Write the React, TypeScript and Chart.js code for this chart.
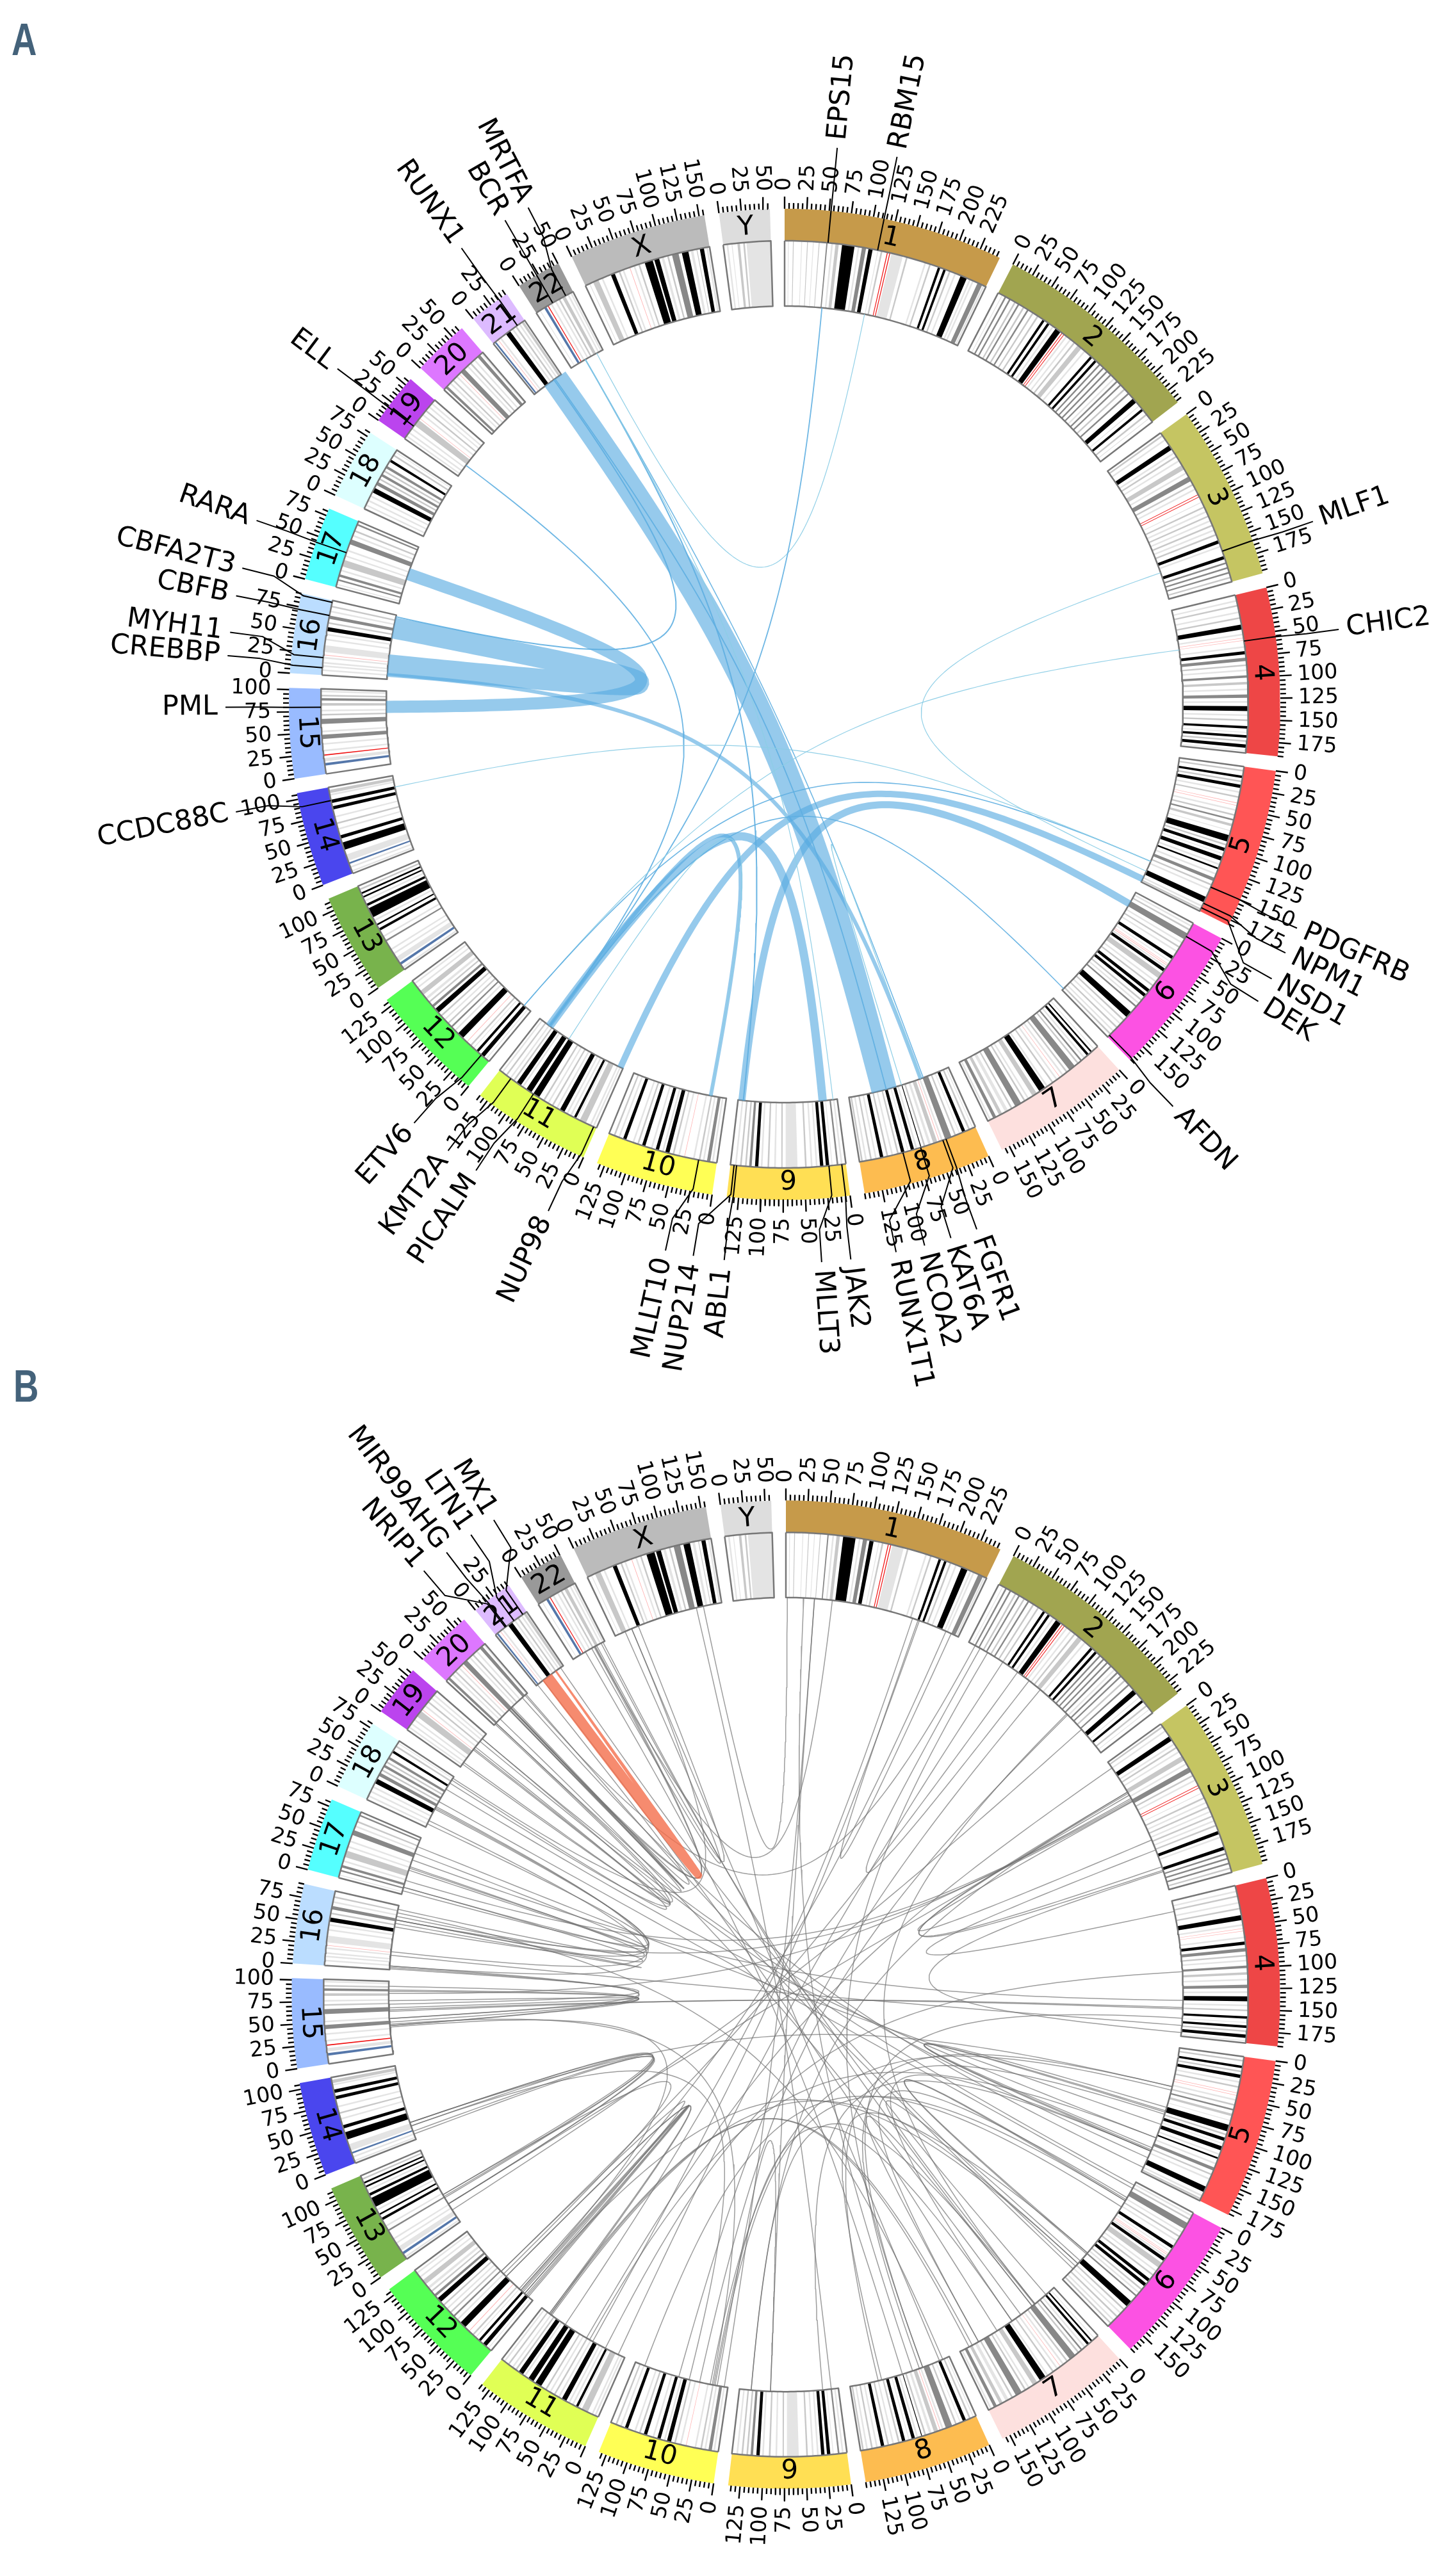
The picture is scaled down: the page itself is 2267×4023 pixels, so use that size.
import React, { useEffect, useRef } from 'react';
import { Chart, registerables } from 'chart.js';
Chart.register(...registerables);

const W = 2267, H = 4023;

const chromNames = ['1','2','3','4','5','6','7','8','9','10','11','12','13','14','15','16','17','18','19','20','21','22','X','Y'];
const chromLengths = [248.9,242.2,198.3,190.2,181.5,170.8,159.3,145.1,138.4,133.8,135.1,133.3,114.4,107.0,102.0,90.3,83.3,80.4,58.6,64.4,46.7,50.8,156.0,57.2];
const chromColors = ['#c69a4a','#a1a550','#c5c562','#ee4646','#ff5555','#fc52e3','#fde0de','#fdbc50','#ffdf54','#ffff55','#e0ff55','#55ff55','#78b34c','#4a46ee','#99bbff','#bbddff','#55ffff','#ddffff','#bb44ee','#dd77ff','#ddbbff','#999999','#bbbbbb','#dddddd'];

type B = [number, number, string];
const bands1: B[] = [[4,5,'l'],[10,11,'m'],[20,21,'l'],[27,28,'m'],[34,35,'l'],[41,42,'m'],[50,51.5,'d'],[56,58,'l'],[61,65,'m'],[69,84,'k'],[88,90,'l'],[93,98,'d'],[101,106,'k'],[112,113,'l'],[116,118,'m'],[123.5,124.5,'r'],[126.5,127.5,'r'],[129,143,'l'],[147,149,'m'],[170,172,'l'],[176,178,'m'],[187,190,'k'],[194,197,'k'],[201,203,'m'],[208,210,'l'],[216,224,'k'],[227,229,'l'],[231,233,'l'],[238,244,'d'],[245,247,'l']];
const bands2: B[] = [[5,6,'l'],[9,11,'d'],[15,17,'d'],[22,24,'m'],[27,29,'d'],[34,36,'m'],[40,42,'d'],[47,49,'m'],[54,56,'m'],[62,65,'k'],[69,72,'k'],[76,78,'l'],[81,88,'k'],[90,90.8,'r'],[92.8,93.6,'r'],[96,98,'l'],[102,104,'l'],[108,110,'m'],[114,120,'m'],[124,126,'l'],[134,137,'k'],[141,144,'k'],[148,150,'d'],[154,156,'d'],[160,162,'d'],[166,168,'d'],[172,174,'l'],[177,179,'d'],[183,185,'d'],[190,192,'m'],[197,199,'d'],[206,212,'k'],[217,218,'l'],[222,225,'k'],[230,232,'m'],[236,237,'l']];
const bands3: B[] = [[3,5,'m'],[9,11,'l'],[18,24,'k'],[28,30,'l'],[33,35,'m'],[39,41,'l'],[46,52,'m'],[56,58,'l'],[62,68,'d'],[72,74,'m'],[78,80,'l'],[86,86.8,'r'],[89,89.8,'r'],[96,97,'l'],[102,104,'m'],[108,110,'l'],[114,116,'m'],[120,122,'l'],[126,128,'m'],[132,134,'l'],[138,140,'m'],[146,150,'k'],[153,155,'l'],[166,170,'k'],[174,176,'d'],[180,182,'d'],[186,188,'d'],[192,194,'m']];
const bands4: B[] = [[6,8,'l'],[12,14,'m'],[20,22,'l'],[27,29,'m'],[36,42,'k'],[47,49,'l'],[52,52.6,'p'],[55,55.6,'p'],[62,64,'l'],[68,72,'k'],[76,80,'d'],[84,86,'m'],[90,92,'l'],[97,100,'d'],[105,108,'m'],[113,115,'l'],[120,124,'d'],[128,130,'l'],[134,140,'k'],[144,146,'l'],[150,152,'m'],[158,161,'k'],[165,166,'l'],[169,172,'k'],[175,177,'m'],[180,184,'k'],[187,188,'l']];
const bands5: B[] = [[4,6,'m'],[11,14,'k'],[17,19,'m'],[22,26,'k'],[30,32,'l'],[36,38,'m'],[44,44.6,'p'],[47,47.6,'p'],[52,54,'l'],[58,60,'m'],[64,66,'d'],[70,73,'m'],[78,79,'l'],[84,92,'k'],[95,97,'m'],[100,104,'k'],[107,108,'l'],[111,116,'k'],[120,122,'l'],[125,127,'k'],[132,134,'l'],[138,142,'d'],[146,148,'m'],[152,154,'l'],[163,170,'k'],[174,176,'l'],[178,180,'m']];
const bands6: B[] = [[3,5,'l'],[8,10,'m'],[14,22,'d'],[26,28,'l'],[32,34,'m'],[38,40,'l'],[46,50,'k'],[53,54,'l'],[57,57.6,'p'],[59,59.6,'p'],[61,63,'l'],[64,68,'k'],[71,78,'m'],[82,84,'l'],[88,90,'m'],[95,99,'k'],[102,106,'k'],[110,112,'m'],[115,117,'l'],[120,122,'d'],[130,138,'k'],[142,144,'m'],[148,150,'l'],[154,156,'m'],[160,162,'l'],[165,167,'m']];
const bands7: B[] = [[5,6,'l'],[9,11,'k'],[14,17,'k'],[20,22,'l'],[25,27,'d'],[30,32,'m'],[36,44,'d'],[47,49,'m'],[53,55,'l'],[58,58.6,'p'],[62,64,'l'],[68,70,'m'],[76,78,'l'],[80,88,'k'],[92,98,'m'],[103,105,'l'],[108,110,'m'],[114,122,'d'],[126,128,'m'],[132,136,'l'],[140,144,'m'],[148,152,'d'],[155,157,'l']];
const bands8: B[] = [[3,4,'l'],[7,9,'m'],[13,17,'k'],[20,21,'l'],[25,27,'m'],[31,39,'d'],[42,44,'l'],[46,46.7,'p'],[49,54,'m'],[57,60,'l'],[64,66,'m'],[69,70,'k'],[74,76,'l'],[78,82,'k'],[85,86,'l'],[90,94,'k'],[97,99,'m'],[104,106,'l'],[110,112,'m'],[116,120,'k'],[124,126,'l'],[130,132,'m'],[136,138,'l'],[141,143,'m']];
const bands9: B[] = [[4,6,'l'],[9,11,'d'],[16,17,'l'],[20,24,'k'],[27,31,'k'],[34,36,'l'],[40,42,'l'],[47,49,'m'],[58,72,'l'],[76,78,'m'],[84,86,'l'],[92,94,'m'],[100,102,'l'],[105,109,'k'],[113,116,'d'],[119,121,'m'],[125,127,'m'],[131,133,'l']];
const bands10: B[] = [[4,6,'l'],[8,12,'d'],[15,17,'l'],[20,22,'m'],[27,29,'l'],[39,39.6,'p'],[45,47,'l'],[52,54,'m'],[58,63,'k'],[65,67,'l'],[71,75,'k'],[79,81,'l'],[88,92,'k'],[96,98,'m'],[102,104,'l'],[112,116,'k'],[120,122,'l'],[126,128,'m']];
const bands11: B[] = [[3,5,'l'],[7,9,'l'],[14,22,'m'],[25,26,'l'],[27,30,'k'],[33,35,'l'],[38,40,'l'],[43,49,'k'],[52,54,'l'],[58,60,'m'],[64,66,'l'],[70,72,'m'],[78,86,'k'],[89,96,'k'],[100,102,'l'],[104,110,'k'],[113,115,'m'],[118,120,'l'],[124,126,'m'],[130,132,'l']];
const bands12: B[] = [[4,5,'l'],[8,13,'k'],[17,20,'k'],[24,25,'l'],[28,30,'m'],[35,35.7,'p'],[42,50,'k'],[54,56,'l'],[60,62,'d'],[66,68,'m'],[72,74,'l'],[78,80,'m'],[84,90,'k'],[93,96,'d'],[100,102,'m'],[105,108,'l'],[112,118,'m'],[122,124,'l'],[128,130,'l']];
const bands13: B[] = [[2,4,'l'],[7,10,'b'],[12,18,'l'],[22,24,'l'],[28,30,'l'],[40,42,'d'],[46,48,'l'],[55,58,'k'],[62,64,'k'],[68,70,'l'],[73,85,'k'],[88,91,'k'],[94,96,'l'],[99,101,'k'],[104,106,'k'],[109,111,'m']];
const bands14: B[] = [[2,4,'l'],[7,9,'l'],[12,14,'b'],[16,24,'l'],[30,39,'k'],[44,48,'k'],[55,57,'l'],[62,64,'m'],[70,72,'l'],[80,84,'k'],[88,92,'k'],[97,99,'l'],[100,104,'m']];
const bands15: B[] = [[10,13,'b'],[15,19,'l'],[22,23.2,'r'],[27,29,'l'],[35,37,'l'],[42,47,'d'],[50,52,'l'],[60,66,'d'],[70,72,'m'],[75,77,'l'],[82,85,'m'],[88,91,'d'],[93,95,'m'],[98,100,'l']];
const bands16: B[] = [[5,7,'l'],[10,12,'l'],[14,16,'l'],[20,22,'l'],[24,24.6,'p'],[28,36,'l'],[42,44,'l'],[48,50,'l'],[53,58,'k'],[62,64,'m'],[68,72,'d'],[76,78,'l'],[82,84,'m']];
const bands17: B[] = [[3,4,'l'],[8,10,'d'],[13,16,'d'],[20,22,'l'],[26,34,'m'],[38,40,'l'],[45,47,'l'],[54,60,'d'],[64,66,'l'],[70,72,'m'],[78,80,'d']];
const bands18: B[] = [[4,6,'l'],[10,12,'l'],[16,18,'l'],[22,28,'k'],[32,36,'d'],[39,41,'m'],[44,47,'d'],[50,52,'m'],[55,58,'d'],[64,67,'k'],[72,74,'m'],[77,78,'l']];
const bands19: B[] = [[3,5,'l'],[8,10,'l'],[14,16,'l'],[20,28,'m'],[30,30.6,'p'],[35,37,'l'],[41,43,'m'],[47,49,'l'],[52,54,'l']];
const bands20: B[] = [[3,6,'d'],[10,12,'l'],[15,17,'m'],[21,23,'l'],[26,26.6,'p'],[29,35,'d'],[39,41,'l'],[44,46,'m'],[50,52,'l'],[56,60,'d'],[62,63,'l']];
const bands21: B[] = [[2,4,'b'],[7,7.6,'p'],[10,12,'l'],[19,25,'k'],[28,30,'l'],[33,35,'m'],[38,40,'l'],[42,45,'m']];
const bands22: B[] = [[5,6,'l'],[11,14,'b'],[16,17,'r'],[20,22,'l'],[26,28,'l'],[31,33,'m'],[36,40,'m'],[43,45,'l'],[47,49,'l']];
const bandsX: B[] = [[5,6,'l'],[10,17,'m'],[21,23,'l'],[33,38,'k'],[43,45,'m'],[48,50,'l'],[57,57.7,'p'],[62,64,'l'],[68,70,'m'],[76,86,'k'],[88,94,'k'],[97,100,'l'],[104,106,'m'],[110,118,'d'],[122,130,'k'],[133,136,'l'],[140,141,'m'],[144,149,'k'],[152,154,'l']];
const bandsY: B[] = [[4,6,'l'],[10,11,'l'],[17,20,'m'],[24,26,'m'],[28,57,'l']];
const allBands = [bands1,bands2,bands3,bands4,bands5,bands6,bands7,bands8,bands9,bands10,bands11,bands12,bands13,bands14,bands15,bands16,bands17,bands18,bands19,bands20,bands21,bands22,bandsX,bandsY];
const shades: Record<string,string> = { k:'#000000', d:'#888888', m:'#c8c8c8', l:'#e4e4e4', r:'#f01010', p:'#ffb0b0', b:'#5577aa' };

// gene name, chromosome, position (Mb)
const genesA: [string,string,number][] = [['EPS15','1',52],['RBM15','1',112],['MLF1','3',160],['CHIC2','4',56],['PDGFRB','5',150],['NPM1','5',171],['NSD1','5',177],['DEK','6',18],['AFDN','6',168],['FGFR1','8',38],['KAT6A','8',42],['NCOA2','8',70],['RUNX1T1','8',92],['JAK2','9',5],['MLLT3','9',20.4],['ABL1','9',131],['NUP214','9',134],['MLLT10','10',22],['NUP98','11',3.7],['PICALM','11',85.7],['KMT2A','11',118.4],['ETV6','12',12],['CCDC88C','14',91],['PML','15',80],['CREBBP','16',9],['MYH11','16',21],['CBFB','16',72],['CBFA2T3','16',88],['RARA','17',43],['ELL','19',18.5],['RUNX1','21',36],['BCR','22',23],['MRTFA','22',40.8]];
const labelAnglesA = [5.4,11.6,70.9,82.3,113.6,116.4,119.4,122.1,136,159.9,162.7,165.5,168.5,173.2,176.2,186.2,189.4,192.3,205,213.5,217,221.5,258.9,269.7,275,277.4,281.2,284.1,289.2,306.9,324.7,330,332.7];
const genesB: [string,string,number][] = [['NRIP1','21',15],['MIR99AHG','21',16.5],['LTN1','21',28],['MX1','21',41]];
const labelAnglesB = [319.5,322.5,325.6,328.4];

// chrA, posA, chrB, posB, weight
const linksA: [string,number,string,number,number][] = [
  ['16',72,'16',20,33],['15',80,'17',43,19],['21',36,'8',95,40],['16',6,'8',42,6],['6',18,'9',133,11],['5',177,'11',3.7,10],
  ['11',118,'9',20.4,13],['11',118,'10',22,6],['21',36,'8',92,1.8],['16',88,'21',34,2],['22',23,'9',131,2],['22',23,'8',38,1.5],
  ['22',23,'9',6,1.2],['22',41,'1',112,1.2],['19',18.5,'11',118,1.8],['1',52,'11',118,1.8],['6',168,'11',118,1.6],
  ['3',160,'5',165,1.2],['4',56,'12',12,1.2],['12',12,'5',150,1.6],['14',91,'5',150,1.2],['11',85.7,'10',22,1.2],['8',42,'8',70,1.3],
];
const linksB: [string,number,string,number][] = [
  ['X',130,'1',2],['X',15,'22',30],['X',35,'22',38],['22',34,'20',33],['22',36,'20',30],['20',30,'20',34],['20',31,'20',36],['20',33,'20',4],['20',34,'21',2],
  ['19',8,'19',50],['19',30,'19',32],['19',35,'18',75],['19',5,'20',4],['18',70,'20',2],['18',5,'17',5],['18',30,'16',60],['18',28,'16',75],['17',35,'17',38],
  ['17',10,'17',60],['17',40,'16',85],['16',70,'17',10],['16',65,'16',70],['16',25,'18',32],['16',5,'18',10],['15',40,'15',95],['15',50,'15',88],['15',45,'15',90],
  ['15',65,'15',75],['15',70,'16',1],['15',50,'16',3],['15',40,'16',5],['15',42,'10',22],['15',38,'12',22],['4',150,'15',60],['14',25,'13',30],['14',25,'13',45],
  ['13',40,'14',20],['13',42,'14',8],['13',30,'14',12],['12',50,'11',120],['12',12,'12',20],['12',10,'12',22],['12',18,'12',8],['12',15,'12',60],['11',122,'12',50],
  ['12',55,'13',45],['11',118,'6',120],['11',55,'5',130],['11',30,'4',100],['10',25,'5',60],['10',20,'7',75],['9',22,'5',150],['9',95,'10',15],['9',122,'7',36],
  ['8',40,'4',165],['8',100,'6',140],['8',45,'5',95],['8',105,'5',55],['7',35,'6',135],['7',40,'7',130],['7',75,'5',150],['7',130,'6',25],['6',30,'6',120],['6',28,'6',122],
  ['6',140,'12',15],['6',30,'10',18],['5',85,'5',150],['5',92,'5',145],['5',90,'5',148],['5',55,'14',25],['4',15,'3',140],['4',185,'3',172],['3',50,'3',170],['3',65,'3',125],
  ['3',52,'3',165],['3',60,'15',85],['3',55,'13',30],['3',50,'9',122],['2',18,'2',100],['2',30,'8',40],['2',170,'7',35],['1',188,'1',238],['1',25,'8',55],['1',40,'9',95],['1',65,'22',35],
  ['7',140,'11',120],['7',145,'11',122],['6',40,'10',120],['10',55,'14',20],['20',60,'2',10],['18',78,'X',25],['3',62,'17',20],['3',64,'16',70],['4',152,'15',62],
  ['1',40,'10',5],['2',55,'11',10],['2',172,'10',40],['1',190,'11',50],['21',42,'6',145],['20',62,'6',150],['22',45,'7',15],['22',48,'7',40],['20',55,'5',175],
  ['19',50,'5',160],['19',45,'6',5],['18',60,'5',130],['17',70,'5',110],['18',40,'6',10],['16',20,'4',175],['17',50,'4',140],['16',80,'8',10],['X',25,'8',15],
  ['X',120,'9',10],['21',12,'7',100],['22',20,'8',70],['20',12,'7',60],['12',60,'2',80],['11',60,'3',10],['13',20,'2',200],['12',25,'1',230],['11',95,'1',180],['10',70,'2',120],
];
// chrA, posA, chrB, posB, weightA, weightB
const salmonLinks: [string,number,string,number,number,number][] = [['21',19,'21',34,18,3]];

const panelA = { cx: 1225, cy: 1100, k: 1, letter: 'A', lx: 18, ly: 86, links: 'a' };
const panelB = { cx: 1227, cy: 3115, k: 0.997, letter: 'B', lx: 21, ly: 2189, links: 'b' };

const GAP = 1.7;
const DEG_PER_MB = (360 - GAP * chromNames.length) / chromLengths.reduce((a, b) => a + b, 0);
const chromStart: Record<string, number> = {};
{ let t = 0; chromNames.forEach((n, i) => { chromStart[n] = t; t += chromLengths[i] * DEG_PER_MB + GAP; }); }
const ang = (c: string, mb: number) => chromStart[c] + mb * DEG_PER_MB;

const R_IN = 622, R_BAND = 724, R_OUT = 774, R_MINOR = 783, R_MAJOR = 793, R_TXT = 802, R_CTRL = 100;
type P = typeof panelA;
const rad = (d: number) => (d * Math.PI) / 180;
const xy = (p: P, th: number, r: number) => ({ x: p.cx + r * p.k * Math.sin(rad(th)), y: p.cy - r * p.k * Math.cos(rad(th)) });
const arc = (p: P, a: number, b: number, r: number) => {
  const n = Math.max(1, Math.ceil(Math.abs(b - a) / 0.5));
  const out = [];
  for (let i = 0; i <= n; i++) out.push(xy(p, a + ((b - a) * i) / n, r));
  return out;
};
const bez = (p: P, a: number, b: number, n = 80) => {
  const p0 = xy(p, a, R_IN), c1 = xy(p, a, R_CTRL), c2 = xy(p, b, R_CTRL), p3 = xy(p, b, R_IN);
  const out = [];
  for (let i = 0; i <= n; i++) {
    const t = i / n, u = 1 - t;
    out.push({
      x: u*u*u*p0.x + 3*u*u*t*c1.x + 3*u*t*t*c2.x + t*t*t*p3.x,
      y: u*u*u*p0.y + 3*u*u*t*c1.y + 3*u*t*t*c2.y + t*t*t*p3.y,
      tx: 3*u*u*(c1.x-p0.x) + 6*u*t*(c2.x-c1.x) + 3*t*t*(p3.x-c2.x),
      ty: 3*u*u*(c1.y-p0.y) + 6*u*t*(c2.y-c1.y) + 3*t*t*(p3.y-c2.y),
    });
  }
  return out;
};
const edge = (p: P, a: number, b: number) => bez(p, a, b).map((q) => ({ x: q.x, y: q.y }));
const base = { pointRadius: 0, pointHoverRadius: 0, tension: 0, spanGaps: false, borderCapStyle: 'butt', borderJoinStyle: 'round' };
const poly = (data: any[], color: string) => ({ ...base, data, fill: 'shape', backgroundColor: color, borderColor: 'rgba(0,0,0,0)', borderWidth: 0 });
const line = (data: any[], color: string, w: number) => ({ ...base, data, fill: false, borderColor: color, borderWidth: w });
const ribbon = (p: P, a: number, b: number, wa: number, wb: number, color: string) => {
  const c = bez(p, a, b, 120);
  const left: any[] = [], right: any[] = [];
  c.forEach((q, i) => {
    const l = Math.hypot(q.tx, q.ty) || 1, w = (wa + ((wb - wa) * i) / (c.length - 1)) / 2;
    const nx = -q.ty / l, ny = q.tx / l;
    left.push({ x: q.x + nx * w, y: q.y + ny * w });
    right.push({ x: q.x - nx * w, y: q.y - ny * w });
  });
  return poly([...left, ...right.reverse()], color);
};

function panelDatasets(p: P) {
  const ds: any[] = [];
  chromNames.forEach((n, i) => {
    const s = chromStart[n], e = s + chromLengths[i] * DEG_PER_MB;
    ds.push(poly([...arc(p, s, e, R_OUT), ...arc(p, e, s, R_BAND)], chromColors[i]));
    for (const [b0, b1, sh] of allBands[i]) {
      const a = ang(n, b0), b = ang(n, b1);
      ds.push(poly([...arc(p, a, b, R_BAND), ...arc(p, b, a, R_IN)], shades[sh]));
    }
    const o = arc(p, s, e, R_BAND), q = arc(p, e, s, R_IN);
    ds.push(line([...o, ...q, o[0]], '#777777', 2.5));
  });
  if (p.links === 'a') {
    for (const [c1, m1, c2, m2, w] of linksA) {
      const a = ang(c1, m1), b = ang(c2, m2);
      if (w >= 3) ds.push(ribbon(p, a, b, w, w, 'rgba(85,170,225,0.62)'));
      else ds.push(line(edge(p, a, b), w >= 1.5 ? 'rgba(95,175,225,0.9)' : 'rgba(140,205,230,0.95)', w));
    }
  } else {
    for (const [c1, m1, c2, m2] of linksB) {
      ds.push(line(edge(p, ang(c1, m1), ang(c2, m2)), 'rgba(110,110,110,0.68)', 1.5));
    }
    for (const [c1, m1, c2, m2, w1, w2] of salmonLinks) {
      ds.push(ribbon(p, ang(c1, m1), ang(c2, m2), w1, w2, 'rgba(244,110,75,0.8)'));
    }
  }
  const major: any[] = [], minor: any[] = [];
  chromNames.forEach((n, i) => {
    for (let mb = 0; mb <= chromLengths[i]; mb += 5) {
      const th = ang(n, mb), isMajor = mb % 25 === 0;
      const t = isMajor ? major : minor;
      t.push(xy(p, th, R_OUT), xy(p, th, isMajor ? R_MAJOR : R_MINOR), { x: NaN, y: NaN });
    }
  });
  ds.push(line(minor, '#000000', 2.4), line(major, '#000000', 2.4));
  const genes = p.links === 'a' ? genesA : genesB;
  const labelAngles = p.links === 'a' ? labelAnglesA : labelAnglesB;
  genes.forEach(([, c, mb], i) => {
    const g = ang(c, mb), l = labelAngles[i];
    ds.push(line([xy(p, g, R_BAND), xy(p, g, 770), xy(p, l, 822), xy(p, l, 873)], '#000000', 2));
  });
  return ds;
}

const radialText = (ctx: any, x: number, y: number, th: number, s: string) => {
  ctx.save();
  ctx.translate(x, y);
  if (th < 180) { ctx.rotate(rad(th - 90)); ctx.textAlign = 'left'; }
  else { ctx.rotate(rad(th + 90)); ctx.textAlign = 'right'; }
  ctx.textBaseline = 'middle';
  ctx.fillText(s, 0, 0);
  ctx.restore();
};

const textPlugin = {
  id: 'circosText',
  afterDatasetsDraw(chart: any) {
    const { ctx, scales } = chart;
    const px = (v: any) => ({ x: scales.x.getPixelForValue(v.x), y: scales.y.getPixelForValue(v.y) });
    ctx.save();
    ctx.fillStyle = '#000';
    for (const p of [panelA, panelB]) {
      ctx.font = '33px "DejaVu Sans"';
      chromNames.forEach((n, i) => {
        for (let mb = 0; mb <= chromLengths[i]; mb += 25) {
          const th = ang(n, mb);
          const q = px(xy(p, th, R_TXT));
          radialText(ctx, q.x, q.y, th, String(mb));
        }
      });
      ctx.font = '43px "DejaVu Sans"';
      const genes = p.links === 'a' ? genesA : genesB;
      const la = p.links === 'a' ? labelAnglesA : labelAnglesB;
      genes.forEach(([name], i) => {
        const q = px(xy(p, la[i], 885));
        radialText(ctx, q.x, q.y, la[i], name);
      });
      ctx.font = '42px "DejaVu Sans"';
      chromNames.forEach((n, i) => {
        const th = chromStart[n] + (chromLengths[i] * DEG_PER_MB) / 2;
        const q = px(xy(p, th, 747));
        ctx.save();
        ctx.translate(q.x, q.y);
        const rot = th < 90 ? th : th < 270 ? th - 180 : th - 360;
        ctx.rotate(rad(rot));
        ctx.textAlign = 'center';
        ctx.textBaseline = 'middle';
        ctx.fillText(n, 0, 0);
        ctx.restore();
      });
      ctx.save();
      ctx.fillStyle = '#44627a';
      ctx.font = 'bold 70px "Liberation Sans Narrow", "Liberation Sans"';
      ctx.textAlign = 'left';
      ctx.textBaseline = 'alphabetic';
      const q = px({ x: p.lx, y: p.ly });
      ctx.translate(q.x, q.y);
      ctx.scale(0.78, 1);
      ctx.fillText(p.letter, 0, 0);
      ctx.restore();
    }
    ctx.restore();
  },
};

export default function App() {
  const ref = useRef<HTMLCanvasElement>(null);
  useEffect(() => {
    const datasets = [...panelDatasets(panelA), ...panelDatasets(panelB)].reverse();
    const chart = new Chart(ref.current as any, {
      type: 'line',
      data: { datasets } as any,
      options: {
        responsive: false,
        animation: false,
        devicePixelRatio: 1,
        events: [],
        layout: { padding: 0 },
        scales: {
          x: { type: 'linear', min: 0, max: W, display: false },
          y: { type: 'linear', min: 0, max: H, reverse: true, display: false },
        },
        plugins: { legend: { display: false }, title: { display: false }, tooltip: { enabled: false } },
      } as any,
      plugins: [textPlugin],
    });
    return () => chart.destroy();
  }, []);
  return (
    <div style={{ position: 'absolute', left: 0, top: 0, width: W, height: H, background: '#fff' }}>
      <canvas ref={ref} width={W} height={H} style={{ display: 'block' }} />
    </div>
  );
}
